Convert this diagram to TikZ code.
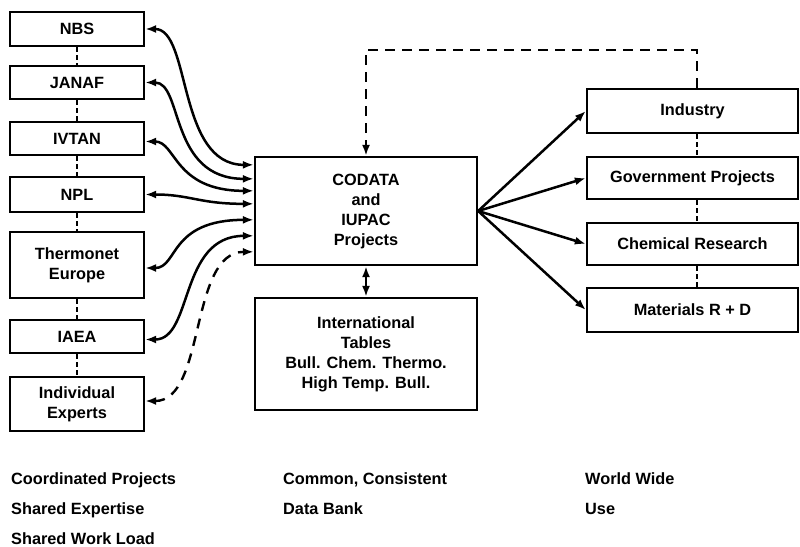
\documentclass[tikz,border=0pt]{standalone}
\usepackage{fontspec}
\setmainfont{Liberation Sans}
\usetikzlibrary{arrows.meta,calc}
\newcommand\diagfont{\fontsize{16.3}{20}\selectfont\bfseries}
\begin{document}
\begin{tikzpicture}[x=1pt,y=-1pt,
  box/.style={draw, line width=2.3pt, inner sep=0pt, align=center, font=\diagfont},
  lbox/.style={box, minimum width=134pt},
  rbox/.style={box, minimum width=211pt},
  cbox/.style={box, minimum width=222pt},
  tip/.style={-{Latex[length=11pt,width=8pt]}},
  bitip/.style={{Latex[length=11pt,width=8pt]}-{Latex[length=11pt,width=8pt]}},
  link/.style={line width=2.5pt},
  sep/.style={line width=2pt, dash pattern=on 5pt off 3pt},
  bigdash/.style={line width=2.8pt, dash pattern=on 10pt off 7pt},
  curvedash/.style={line width=2.4pt, dash pattern=on 10pt off 8pt},
  caption/.style={anchor=base west, inner sep=0pt, font=\diagfont}]
\useasboundingbox (0,0) rectangle (800,546);

% left column
\node[lbox, minimum height=34pt] (nbs) at (77,29) {NBS};
\node[lbox, minimum height=33pt] (janaf) at (77,82.5) {JANAF};
\node[lbox, minimum height=33pt] (ivtan) at (77,138.5) {IVTAN};
\node[lbox, minimum height=35pt] (npl) at (77,194.5) {NPL};
\node[lbox, minimum height=66pt] (thermo) at (77,265) {Thermonet\\Europe};
\node[lbox, minimum height=33pt] (iaea) at (77,336.5) {IAEA};
\node[lbox, minimum height=54pt] (experts) at (77,404) {Individual\\Experts};

% centre
\node[cbox, minimum height=108pt] (codata) at (366,211) {CODATA\\and\\IUPAC\\Projects};
\node[cbox, minimum height=112pt] (tables) at (366,354) {International\\Tables\\Bull. Chem. Thermo.\\High Temp. Bull.};

% right column
\node[rbox, minimum height=44pt] (industry) at (692.5,111) {Industry};
\node[rbox, minimum height=42pt] (gov) at (692.5,178) {Government Projects};
\node[rbox, minimum height=42pt] (chem) at (692.5,244) {Chemical Research};
\node[rbox, minimum height=44pt] (mat) at (692.5,310) {Materials R + D};

% dashed separators
\draw[sep] (nbs.south) -- (janaf.north);
\draw[sep] (janaf.south) -- (ivtan.north);
\draw[sep] (ivtan.south) -- (npl.north);
\draw[sep] (npl.south) -- (thermo.north);
\draw[sep] (thermo.south) -- (iaea.north);
\draw[sep] (iaea.south) -- (experts.north);
\draw[sep] ($(industry.south)+(4.5,0)$) -- ($(gov.north)+(4.5,0)$);
\draw[sep] ($(gov.south)+(4.5,0)$) -- ($(chem.north)+(4.5,0)$);
\draw[sep] ($(chem.south)+(4.5,0)$) -- ($(mat.north)+(4.5,0)$);

% left links
\draw[link, bitip] (nbs.east) .. controls +(46,0) and +(-77,0) .. ($(codata.north west)+(0,9)$);
\draw[link, bitip] (janaf.east) .. controls +(38,0) and +(-85,0) .. ($(codata.north west)+(0,23)$);
\draw[link, bitip] ($(ivtan.east)+(0,3)$) .. controls +(31,0) and +(-80,0) .. ($(codata.north west)+(0,35)$);
\draw[link, bitip] (npl.east) .. controls +(45,0) and +(-55,0) .. ($(codata.north west)+(0,48)$);
\draw[link, bitip] ($(thermo.east)+(0,3)$) .. controls +(33,0) and +(-85,0) .. ($(codata.north west)+(0,64)$);
\draw[link, bitip] ($(iaea.east)+(0,3)$) .. controls +(48,0) and +(-75,0) .. ($(codata.north west)+(0,80)$);
\draw[curvedash, bitip] ($(experts.east)+(0,-3)$) .. controls +(61,0) and +(-65,0) .. ($(codata.north west)+(0,96)$);

% centre links
\draw[link, bitip] (codata.south) -- (tables.north);
\coordinate (topline) at (0,50);
\draw[bigdash, tip] ($(industry.north)+(4.5,0)$) -- ($(industry.north |- topline)+(4.5,0)$) -| (codata.north);

% right links
\draw[link, tip] (codata.east) -- (industry.west);
\draw[link, tip] (codata.east) -- (gov.west);
\draw[link, tip] (codata.east) -- (chem.west);
\draw[link, tip] (codata.east) -- (mat.west);

% captions
\node[caption] (c1) at (11,484) {Coordinated Projects};
\node[caption] (c2) at (11,514) {Shared Expertise};
\node[caption] (c3) at (11,544) {Shared Work Load};
\node[caption] (c4) at (283,484) {Common, Consistent};
\node[caption] (c5) at (283,514) {Data Bank};
\node[caption] (c6) at (585,484) {World Wide};
\node[caption] (c7) at (585,514) {Use};
\end{tikzpicture}
\end{document}
